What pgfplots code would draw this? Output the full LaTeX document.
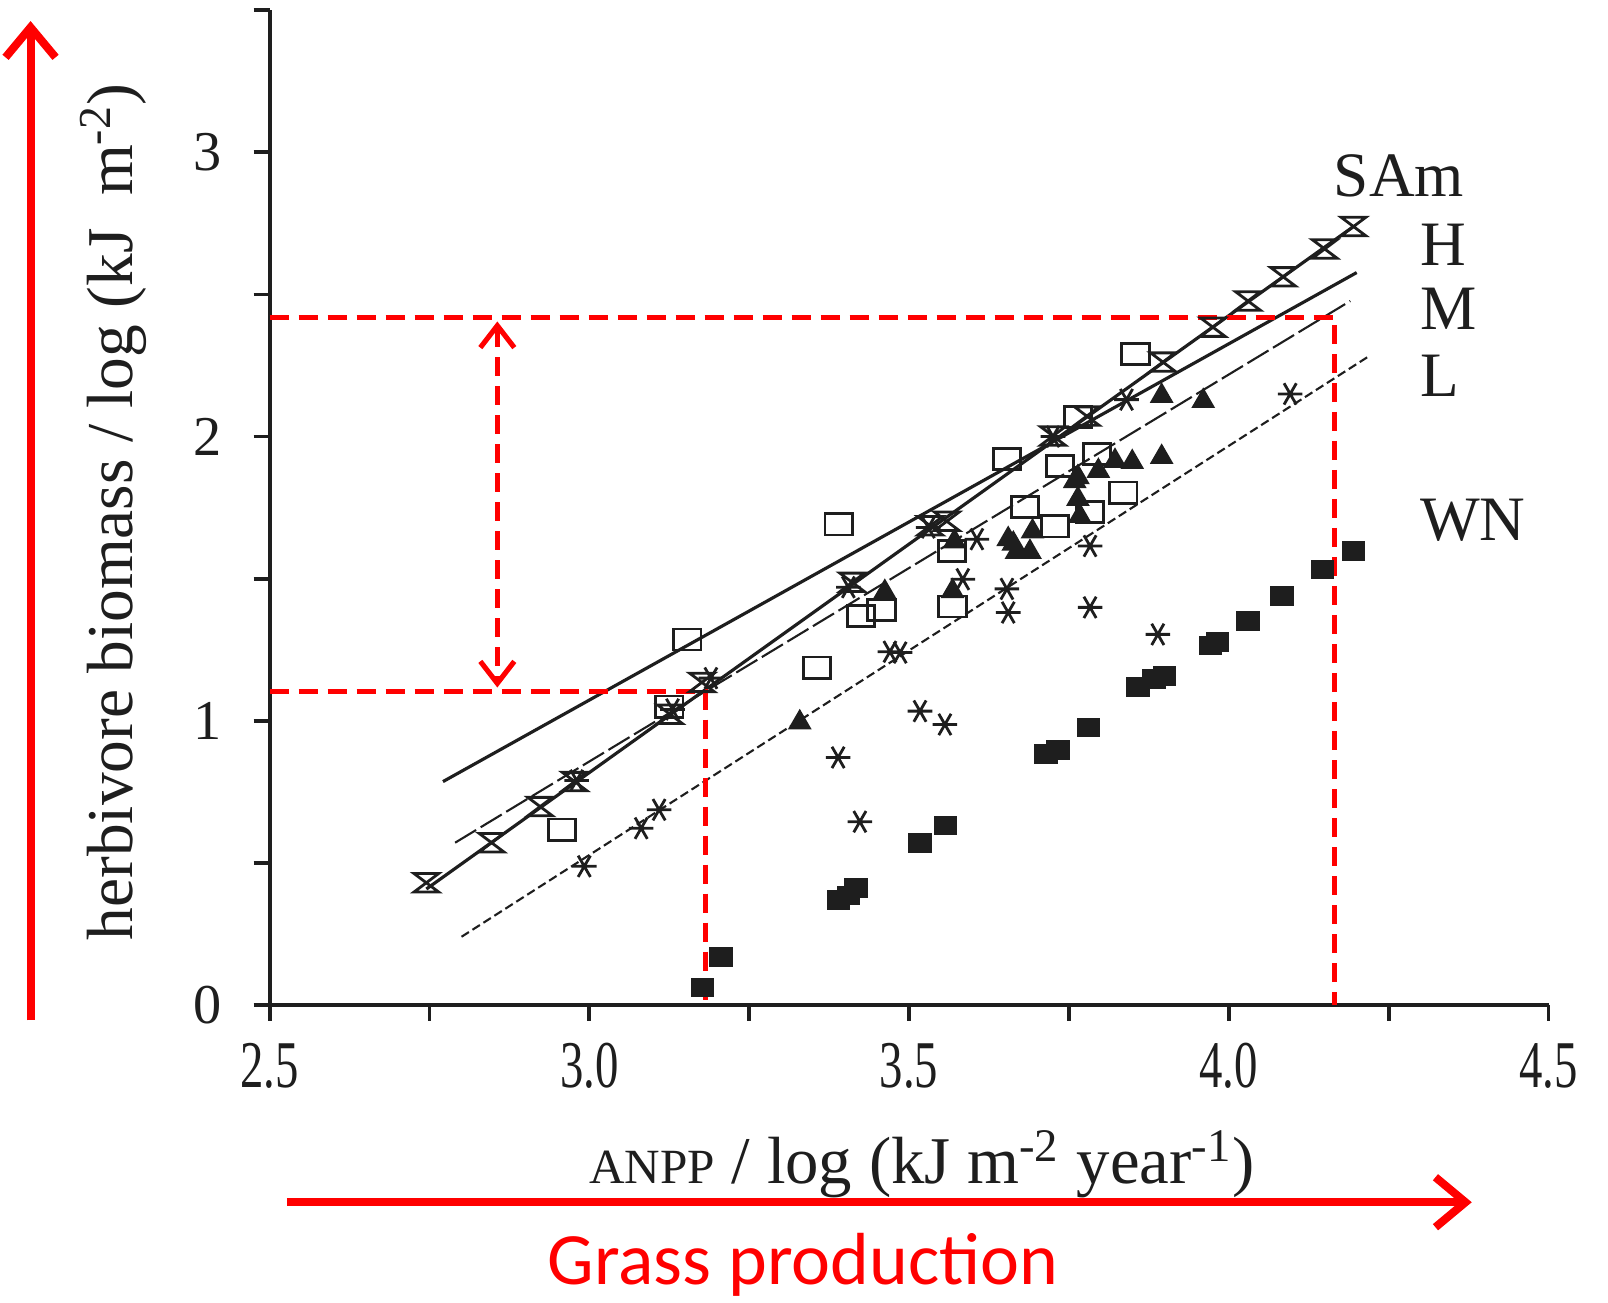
\documentclass[border=0pt]{standalone}
\usepackage{fontspec}
\setmainfont{Liberation Serif}
\newfontfamily\tickfont{Liberation Serif}[FakeStretch=0.7]
\newfontfamily\calfont{Carlito}
\usepackage{pgfplots}
\pgfplotsset{compat=1.18}
\usetikzlibrary{arrows.meta}
\definecolor{annred}{RGB}{255,0,0}
\definecolor{ink}{RGB}{30,30,30}

% open hourglass marker (two triangles tip to tip)
\pgfdeclareplotmark{hourglass}{%
  \pgfpathmoveto{\pgfqpoint{-\pgfplotmarksize}{0.75\pgfplotmarksize}}%
  \pgfpathlineto{\pgfqpoint{\pgfplotmarksize}{0.75\pgfplotmarksize}}%
  \pgfpathlineto{\pgfqpoint{-\pgfplotmarksize}{-0.75\pgfplotmarksize}}%
  \pgfpathlineto{\pgfqpoint{\pgfplotmarksize}{-0.75\pgfplotmarksize}}%
  \pgfpathclose
  \pgfusepathqstroke}

\begin{document}
\begin{tikzpicture}
\begin{axis}[
  scale only axis,
  width=12.788cm, height=9.9475cm,
  xmin=2.5, xmax=4.5, ymin=0, ymax=3.5,
  axis x line=bottom, axis y line=left,
  axis line style={-, line width=1.1pt, ink},
  xtick={2.5,3,3.5,4,4.5}, xticklabels={2.5,3.0,3.5,4.0,4.5},
  minor xtick={2.75,3.25,3.75,4.25},
  ytick={0,1,2,3}, minor ytick={0.5,1.5,2.5,3.5},
  tick align=outside,
  major tick length=0.16cm, minor tick length=0.16cm,
  tick style={line width=1.1pt, ink},
  /pgf/number format/assume math mode=true,
  xticklabel style={font=\tickfont\fontsize{19}{19}\selectfont, text=ink, yshift=-0.1cm},
  yticklabel style={font=\fontsize{16}{16}\selectfont, text=ink, xshift=-0.2cm},
  clip=false,
]
% regression lines
\addplot[ink, line width=0.9pt] coordinates {(2.771,0.786) (4.200,2.577)};
\addplot[ink, line width=0.9pt] coordinates {(2.745,0.408) (4.195,2.739)};
\addplot[ink, line width=0.6pt, dash pattern=on 7pt off 1.5pt] coordinates {(2.790,0.571) (4.190,2.477)};
\addplot[ink, line width=0.6pt, dash pattern=on 2.5pt off 1.2pt] coordinates {(2.800,0.240) (4.220,2.284)};

% SAm: open hourglasses
\addplot[only marks, mark=hourglass, mark size=3.5pt, mark options={ink, line width=0.8pt}] coordinates {
(2.745,0.430) (2.847,0.571) (2.923,0.698) (2.977,0.786) (3.126,1.023) (3.176,1.135)
(3.411,1.487) (3.533,1.686) (3.559,1.702) (3.725,2.002) (3.778,2.072) (3.897,2.262)
(3.975,2.385) (4.030,2.477) (4.085,2.562) (4.150,2.660) (4.195,2.739)};

% H: open squares
\addplot[only marks, mark=square, mark size=3pt, mark options={ink, line width=0.8pt, xscale=1.3}] coordinates {
(2.957,0.617) (3.125,1.050) (3.153,1.286) (3.356,1.187) (3.390,1.691) (3.425,1.368)
(3.457,1.391) (3.567,1.597) (3.568,1.402) (3.653,1.920) (3.681,1.751) (3.728,1.684)
(3.736,1.897) (3.764,2.069) (3.783,1.734) (3.794,1.938) (3.835,1.803) (3.854,2.291)};

% M: filled triangles
\addplot[only marks, mark=triangle*, mark size=3.5pt, mark options={ink, fill=ink}] coordinates {
(3.329,0.994) (3.462,1.453) (3.568,1.456) (3.571,1.631) (3.655,1.639) (3.663,1.623)
(3.668,1.594) (3.689,1.594) (3.693,1.666) (3.759,1.843) (3.764,1.857) (3.764,1.780)
(3.767,1.720) (3.796,1.879) (3.822,1.914) (3.849,1.910) (3.895,1.928) (3.895,2.143)
(3.960,2.125)};

% L: asterisks
\addplot[only marks, mark=asterisk, mark size=3.5pt, mark options={ink, line width=0.8pt, rotate=90}] coordinates {
(2.992,0.488) (3.081,0.622) (3.109,0.687) (2.980,0.790) (3.130,1.040) (3.190,1.150)
(3.389,0.871) (3.423,0.645) (3.405,1.470) (3.470,1.243) (3.486,1.240) (3.517,1.034)
(3.556,0.987) (3.530,1.680) (3.584,1.498) (3.606,1.639) (3.653,1.464) (3.655,1.381)
(3.725,2.000) (3.783,1.615) (3.783,1.399) (3.840,2.130) (3.889,1.304) (4.096,2.150)};

% WN: filled squares
\addplot[only marks, mark=square*, mark size=2.6pt, mark options={ink, fill=ink, xscale=1.2}] coordinates {
(3.177,0.061) (3.206,0.170) (3.390,0.369) (3.405,0.385) (3.417,0.412) (3.517,0.571)
(3.557,0.632) (3.714,0.882) (3.733,0.896) (3.781,0.976) (3.858,1.120) (3.883,1.146)
(3.899,1.157) (3.971,1.265) (3.982,1.276) (4.030,1.352) (4.083,1.438) (4.147,1.532)
(4.195,1.597)};

% series labels
\node[anchor=west, font=\fontsize{18}{18}\selectfont, text=ink] at (axis cs:4.145,2.917) {SAm};
\node[anchor=west, font=\fontsize{18}{18}\selectfont, text=ink] at (axis cs:4.280,2.674) {H};
\node[anchor=west, font=\fontsize{18}{18}\selectfont, text=ink] at (axis cs:4.280,2.450) {M};
\node[anchor=west, font=\fontsize{18}{18}\selectfont, text=ink] at (axis cs:4.280,2.215) {L};
\node[anchor=west, font=\fontsize{18}{18}\selectfont, text=ink] at (axis cs:4.280,1.706) {WN};

% axis titles
\node[rotate=90, font=\fontsize{18.6}{18.6}\selectfont, text=ink] at (axis cs:2.255,1.735)
  {herbivore biomass / log (kJ\ \ m\textsuperscript{-2})};
\node[font=\fontsize{19}{19}\selectfont, text=ink] at (axis cs:3.52,-0.56)
  {{\fontsize{14}{14}\selectfont ANPP} / log (kJ m\textsuperscript{-2} year\textsuperscript{-1})};

% red annotations
\draw[annred, line width=1.45pt, dash pattern=on 0.19cm off 0.1cm]
  (axis cs:2.5,2.42) -| (axis cs:4.166,0);
\draw[annred, line width=1.45pt, dash pattern=on 0.19cm off 0.1cm]
  (axis cs:2.5,1.102) -| (axis cs:3.182,0);
\draw[annred, line width=1.45pt, dash pattern=on 0.19cm off 0.1cm,
  {Straight Barb[length=0.22cm,width=0.34cm]}-{Straight Barb[length=0.22cm,width=0.34cm]}]
  (axis cs:2.856,2.405) -- (axis cs:2.856,1.117);
\draw[annred, line width=2.3pt, -{Straight Barb[length=0.3cm,width=0.5cm]}]
  (axis cs:2.126,-0.054) -- (axis cs:2.126,3.462);
\draw[annred, line width=2.3pt, -{Straight Barb[length=0.3cm,width=0.5cm]}]
  (axis cs:2.527,-0.694) -- (axis cs:4.38,-0.694);
\node[text=annred, font=\calfont\fontsize{21}{21}\selectfont] at (axis cs:3.334,-0.915) {Grass production};
\end{axis}
\pgfresetboundingbox
\path[use as bounding box] (-2.697cm,-2.98cm) rectangle (13.383cm,10.05cm);
\end{tikzpicture}
\end{document}
